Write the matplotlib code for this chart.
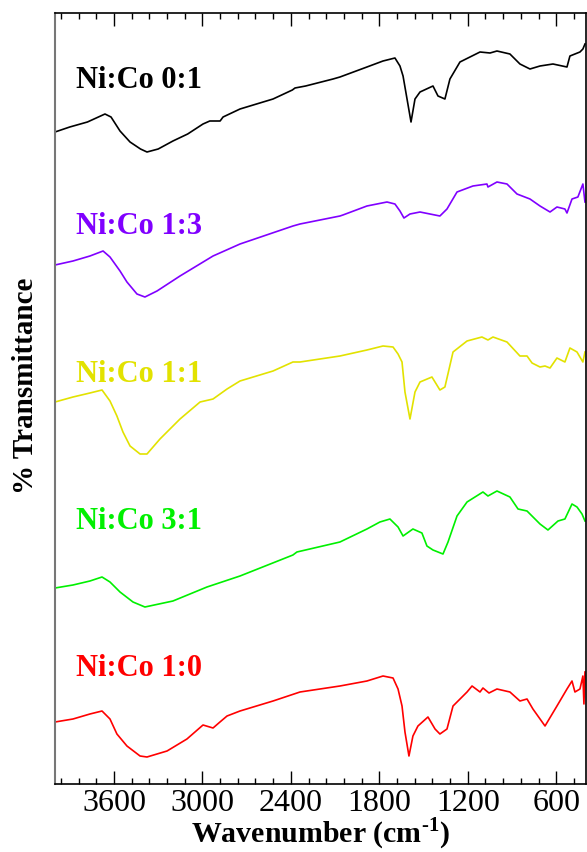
import numpy as np
import matplotlib
matplotlib.use('Agg')
from matplotlib import pyplot as plt
from matplotlib.ticker import MultipleLocator

plt.rcParams['font.family'] = ['Liberation Serif', 'DejaVu Serif']
plt.rcParams['mathtext.fontset'] = 'custom'
plt.rcParams['mathtext.rm'] = 'Liberation Serif:bold'
plt.rcParams['mathtext.bf'] = 'Liberation Serif:bold'

# spectra, wavenumber (cm-1) vs offset transmittance (a.u.)
wn_01 = [4000, 3900, 3780, 3661, 3620, 3559, 3491, 3420, 3376, 3300, 3200, 3100, 2996, 2950, 2880,
         2860, 2745, 2521, 2390, 2372, 2300, 2114, 2067, 1884, 1775, 1694, 1660, 1639, 1612, 1585,
         1558, 1524, 1436, 1402, 1355, 1321, 1253, 1117, 1049, 1002, 914, 846, 778, 710, 622, 527,
         507, 439, 419, 405]
t_01 = [667, 672, 677, 685, 682, 668, 657, 650, 647, 650, 658, 665, 675, 678, 678,
        682, 690, 700, 709, 711, 713, 720, 722, 732, 738, 741, 733, 723, 700, 677,
        700, 707, 713, 703, 700, 720, 737, 747, 746, 748, 745, 735, 730, 733, 735, 732,
        743, 747, 750, 755]

wn_13 = [4000, 3878, 3763, 3674, 3627, 3559, 3512, 3444, 3390, 3308, 3152, 2928, 2745, 2386, 2338,
         2067, 2047, 1884, 1748, 1694, 1660, 1633, 1592, 1524, 1389, 1341, 1273, 1165, 1070, 1063,
         1002, 934, 866, 778, 710, 642, 595, 541, 527, 493, 453, 419, 405]
t_13 = [534, 538, 543, 548, 542, 528, 517, 505, 502, 508, 523, 543, 555, 573, 575,
        583, 584, 593, 597, 595, 588, 581, 585, 587, 583, 590, 607, 613, 615, 612,
        617, 615, 605, 600, 593, 587, 592, 590, 586, 600, 602, 615, 597]

wn_11 = [4000, 3878, 3763, 3681, 3627, 3580, 3539, 3491, 3423, 3376, 3288, 3152, 3016, 2928, 2833,
         2745, 2521, 2386, 2338, 2067, 1884, 1775, 1707, 1673, 1646, 1626, 1592, 1558, 1524, 1443,
         1389, 1355, 1300, 1205, 1104, 1063, 1029, 934, 846, 798, 764, 710, 676, 642, 595, 541,
         507, 459, 419, 405]
t_11 = [397, 402, 406, 409, 398, 383, 367, 353, 345, 345, 360, 380, 397, 400, 410,
        418, 428, 437, 437, 443, 449, 453, 452, 445, 437, 407, 380, 407, 417, 422,
        409, 412, 447, 458, 462, 459, 462, 457, 443, 443, 436, 432, 433, 431, 441, 437,
        451, 447, 437, 447]

wn_31 = [4000, 3878, 3763, 3681, 3627, 3559, 3471, 3390, 3200, 2969, 2745, 2386, 2359, 2067, 1884,
         1796, 1728, 1673, 1639, 1572, 1511, 1477, 1436, 1368, 1334, 1273, 1205, 1097, 1063, 1002,
         914, 859, 798, 710, 656, 588, 541, 493, 459, 425, 405]
t_31 = [211, 214, 218, 222, 217, 207, 197, 192, 198, 212, 223, 244, 247, 257, 270,
        277, 280, 272, 263, 270, 266, 253, 249, 245, 257, 283, 297, 307, 303, 308,
        302, 290, 288, 275, 269, 278, 280, 295, 292, 285, 278]

wn_10 = [4000, 3878, 3763, 3681, 3627, 3580, 3512, 3423, 3376, 3240, 3105, 2996, 2928, 2881, 2833,
         2745, 2521, 2338, 2067, 1884, 1775, 1707, 1673, 1646, 1626, 1599, 1572, 1538, 1470, 1422,
         1389, 1341, 1300, 1205, 1171, 1117, 1097, 1056, 1002, 914, 846, 798, 758, 676, 595, 527,
         493, 473, 439, 419, 412, 405]
t_10 = [77, 80, 85, 88, 80, 65, 53, 43, 42, 48, 60, 74, 71, 77, 83,
        88, 98, 107, 113, 118, 123, 121, 110, 93, 67, 43, 63, 73, 82, 70,
        65, 70, 93, 107, 113, 107, 111, 106, 110, 107, 98, 100, 90, 73, 93, 110,
        118, 107, 110, 123, 95, 127]

labels = ['Ni:Co 0:1', 'Ni:Co 1:3', 'Ni:Co 1:1', 'Ni:Co 3:1', 'Ni:Co 1:0']
colors = ['black', '#8000ff', '#e2e200', '#00f000', '#ff0000']
label_y = [712, 566, 418, 271, 124]

fig = plt.figure(figsize=(5.87, 8.53), dpi=100)
ax = fig.add_axes([55/587, 68/853, 530.7/587, 771/853])

series = [(wn_01, t_01), (wn_13, t_13), (wn_11, t_11), (wn_31, t_31), (wn_10, t_10)]
for (w, t), c, lab, ly in zip(series, colors, labels, label_y):
    ax.plot(w, t, color=c, lw=1.2)
    ax.text(3858, ly, lab, color=c, fontsize=22, fontweight='bold', ha='left', va='baseline')

ax.set_xlim(4000, 400)
ax.set_ylim(15, 786)
ax.set_yticks([])
ax.xaxis.set_major_locator(MultipleLocator(600))
ax.xaxis.set_minor_locator(MultipleLocator(120))
ax.tick_params(axis='x', which='major', direction='in', length=9.5, width=1, top=True, labelsize=23, pad=3)
ax.tick_params(axis='x', which='minor', direction='in', length=4.5, width=1, top=True)
for s in ['top', 'bottom', 'right']:
    ax.spines[s].set_linewidth(1.2)
ax.spines['left'].set_color('#777777')
ax.spines['left'].set_linewidth(1.5)

ax.set_xlabel(r'Wavenumber (cm$^{\text{-1}}$)', fontsize=21.5, fontweight='bold', labelpad=-2)
ax.set_ylabel('% Transmittance', fontsize=21, fontweight='bold', va='center')
ax.yaxis.set_label_coords(-0.055, 0.5175)

plt.savefig('out.png', dpi=100)
